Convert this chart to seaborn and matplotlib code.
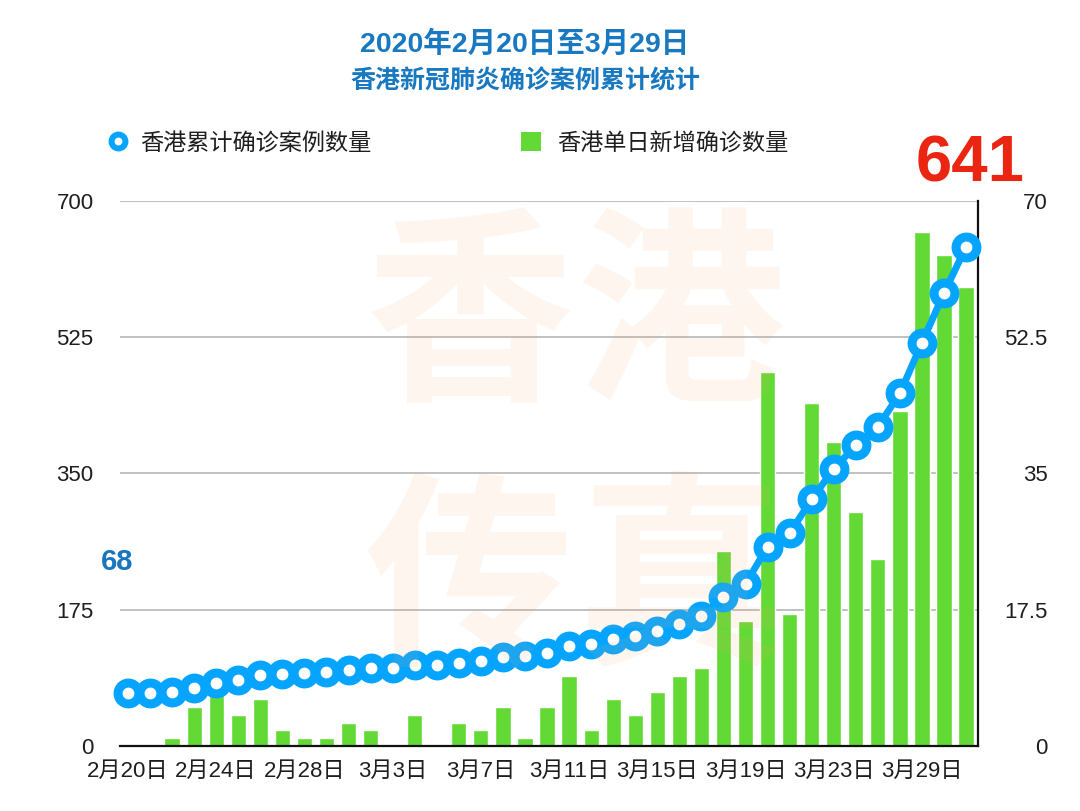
import numpy as np
import pandas as pd
import matplotlib
matplotlib.use("Agg")
import matplotlib.pyplot as plt
import seaborn as sns
from matplotlib.lines import Line2D
from matplotlib.patches import Patch

# ---------------- data ----------------
days = [f"2月{d}日" for d in range(20, 30)] + [f"3月{d}日" for d in range(1, 30)]
cumulative = [68, 68, 69, 74, 81, 85, 91, 93, 94, 95,
              98, 100, 100, 104, 104, 107, 109, 114, 115, 120,
              129, 131, 137, 141, 148, 157, 167, 192, 208, 256,
              273, 317, 356, 386, 410, 453, 518, 582, 641]
daily_new = [0, 0, 1, 5, 7, 4, 6, 2, 1, 1,
             3, 2, 0, 4, 0, 3, 2, 5, 1, 5,
             9, 2, 6, 4, 7, 9, 10, 25, 16, 48,
             17, 44, 39, 30, 24, 43, 66, 63, 59]
tick_labels = ["2月20日", "2月24日", "2月28日", "3月3日", "3月7日",
               "3月11日", "3月15日", "3月19日", "3月23日", "3月29日"]
left_ticks = [0, 175, 350, 525, 700]
left_tick_labels = ["0", "175", "350", "525", "700"]
right_ticks = [0, 17.5, 35, 52.5, 70]
right_tick_labels = ["0", "17.5", "35", "52.5", "70"]
series_names = ["香港累计确诊案例数量", "香港单日新增确诊数量"]
title_line1 = "2020年2月20日至3月29日"
title_line2 = "香港新冠肺炎确诊案例累计统计"
first_label = "68"
last_label = "641"
watermark = ["香", "港", "传", "真"]

df = pd.DataFrame({"day": days, "idx": np.arange(len(days)),
                   "cumulative": cumulative, "new": daily_new})

# ---------------- style ----------------
BLUE = "#05a5ff"
GREEN = "#63d935"
TITLE_BLUE = "#1878c0"
RED = "#ea2612"
TXT = "#1e1e1e"

sns.set_theme(style="white")
plt.rcParams["font.family"] = ["Liberation Sans", "Noto Sans CJK SC", "DejaVu Sans"]

W, H = 1080, 811
fig = plt.figure(figsize=(10.8, 8.11), dpi=100)
ax_bar = fig.add_axes([120 / W, 1 - 746 / H, 858 / W, 545 / H])
ax_line = ax_bar.twinx()

# bars (right axis scale)
sns.barplot(data=df, x="day", y="new", order=days, ax=ax_bar, color=GREEN,
            saturation=1, width=0.69, zorder=2)
ax_bar.set_ylim(0, 70)
ax_bar.set_yticks(right_ticks)
ax_bar.set_yticklabels(right_tick_labels)
ax_bar.yaxis.tick_right()
ax_bar.grid(axis="y", color="#bcbcbc", lw=1.3, zorder=0)
ax_bar.grid(axis="x", visible=False)
ax_bar.set_axisbelow(True)
ax_bar.set_xlabel("")
ax_bar.set_ylabel("")

# cumulative line (left axis scale)
sns.lineplot(data=df, x="idx", y="cumulative", ax=ax_line, color=BLUE, lw=5,
             marker="o", markersize=15, markerfacecolor="white",
             markeredgecolor=BLUE, markeredgewidth=6.5, clip_on=False, zorder=5)
ax_line.set_ylim(0, 700)
ax_line.set_yticks(left_ticks)
ax_line.set_yticklabels(left_tick_labels)
ax_line.yaxis.tick_left()
ax_line.set_xlabel("")
ax_line.set_ylabel("")
ax_line.grid(False)

ax_bar.set_xlim(-0.36, 38.54)
ax_bar.set_xticks(list(range(0, 37, 4)))
ax_bar.set_xticklabels(tick_labels)

for s in ["left", "top"]:
    ax_bar.spines[s].set_visible(False)
for s in ["right", "bottom"]:
    ax_bar.spines[s].set_color("#111111")
    ax_bar.spines[s].set_linewidth(1.6)
for s in ax_line.spines.values():
    s.set_visible(False)

ax_bar.tick_params(axis="x", length=0, pad=11, labelsize=16, labelcolor=TXT)
ax_bar.tick_params(axis="y", length=0, pad=50, labelsize=16, labelcolor=TXT)
ax_line.tick_params(axis="y", length=0, pad=19, labelsize=16, labelcolor=TXT)
for lbl in ax_bar.get_yticklabels():
    lbl.set_horizontalalignment("right")

# ---------------- titles & annotations ----------------
fig.text(525 / W, 1 - 44 / H, title_line1, ha="center", va="center",
         fontsize=20.5, weight="bold", color=TITLE_BLUE)
fig.text(525 / W, 1 - 81 / H, title_line2, ha="center", va="center",
         fontsize=18, weight="bold", color=TITLE_BLUE)
fig.text(117 / W, 1 - 562 / H, first_label, ha="center", va="center",
         fontsize=21, weight="bold", color="#1776bd")
fig.text(970 / W, 1 - 165 / H, last_label, ha="center", va="center",
         fontsize=47, weight="bold", color=RED)

# ---------------- legends ----------------
h1 = Line2D([], [], ls="none", marker="o", markersize=10, markerfacecolor="white",
            markeredgecolor=BLUE, markeredgewidth=4.3)
leg1 = fig.legend(handles=[h1], labels=[series_names[0]], loc="center left",
                  bbox_to_anchor=(108 / W, 1 - 143 / H), frameon=False,
                  fontsize=16.7, handlelength=0.87, handletextpad=0.52,
                  borderpad=0, borderaxespad=0, labelcolor=TXT)
h2 = Patch(facecolor=GREEN, edgecolor="none")
leg2 = fig.legend(handles=[h2], labels=[series_names[1]], loc="center left",
                  bbox_to_anchor=(521 / W, 1 - 143 / H), frameon=False,
                  fontsize=16.7, handlelength=0.87, handleheight=0.87,
                  handletextpad=0.7, borderpad=0, borderaxespad=0, labelcolor=TXT)

# ---------------- watermark ----------------
wm_pos = [(469, 323), (681, 323), (469, 587), (681, 587)]
for ch, (px, py) in zip(watermark, wm_pos):
    fig.text(px / W, 1 - py / H, ch, ha="center", va="center", fontsize=150,
             weight="bold", color="#f4a46c", alpha=0.11, zorder=20,
             family=["Noto Sans CJK SC"])

fig.savefig("out.png", dpi=100)
